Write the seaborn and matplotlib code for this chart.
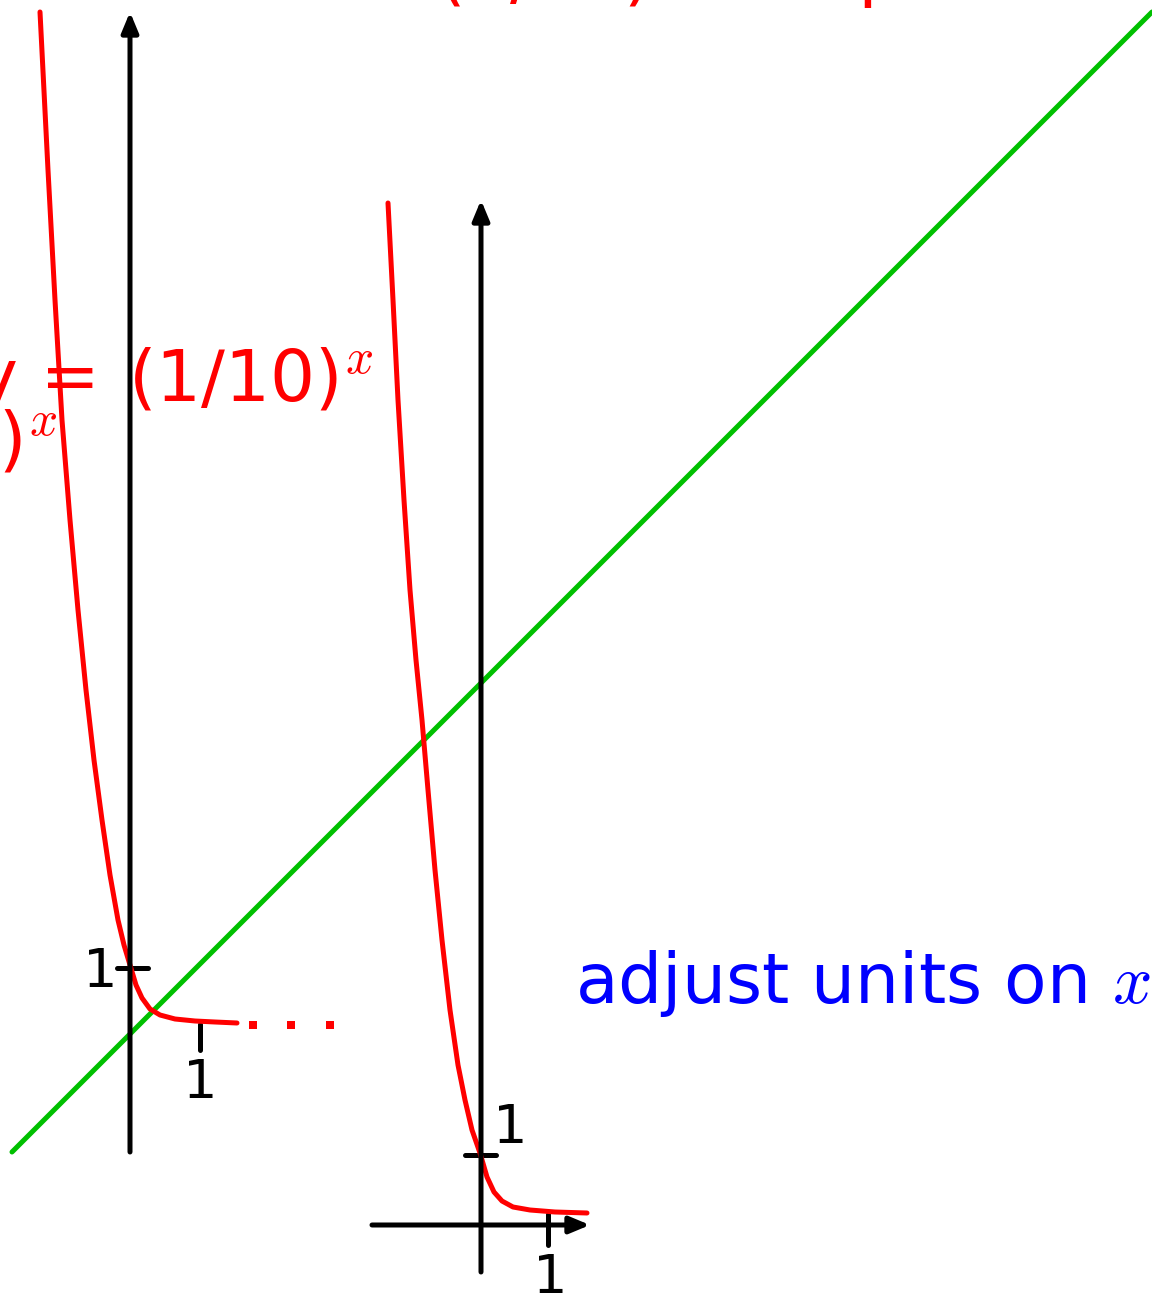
import numpy as np
import pandas as pd
import seaborn as sns
import matplotlib.pyplot as plt

# canvas in pixel units (y grows downward, like the slide)
W, H = 1152, 1297

# left red curve y=(1/10)^x on the wide axes
left_x = [40, 48, 55, 62, 70, 78, 86, 94, 102, 110, 118, 124, 130, 136, 142, 150, 160, 175, 195, 215, 237]
left_y = [12, 170, 300, 420, 520, 610, 690, 760, 820, 875, 920, 945, 965, 985, 998, 1009, 1015, 1019, 1021, 1022, 1023]
dots_x = [253, 291, 330]
dots_y = [1025, 1025, 1025]

# right red curve on the adjusted axes
right_x = [388, 393, 398, 404, 410, 416, 422, 428, 435, 442, 450, 458, 465, 472, 480, 487, 494, 502, 513, 530, 555, 587]
right_y = [203, 300, 400, 500, 590, 660, 720, 790, 870, 940, 1010, 1065, 1100, 1130, 1153, 1177, 1192, 1201, 1207, 1210, 1212, 1213]

# green line y=x
green_x = [12, 1152]
green_y = [1152, 12]

sns.set_style('white')
plt.rcParams['font.family'] = ['DejaVu Sans']
plt.rcParams['mathtext.fontset'] = 'cm'

fig = plt.figure(figsize=(W / 100, H / 100), dpi=100)
ax = fig.add_axes([0, 0, 1, 1])
ax.set_xlim(0, W)
ax.set_ylim(H, 0)
ax.axis('off')

lw = 3.6


def arrow(x0, y0, x1, y1):
    ax.annotate('', xy=(x1, y1), xytext=(x0, y0),
                arrowprops=dict(arrowstyle='-|>,head_length=0.6,head_width=0.25', lw=lw,
                                color='black', shrinkA=0, shrinkB=0, mutation_scale=20))


# left axes
arrow(130, 1152, 130, 12)
arrow(12, 1035, 1155, 1035)
ax.plot([117, 148], [968, 968], color='black', lw=lw)
ax.plot([200, 200], [1024, 1050], color='black', lw=lw)

# right axes
arrow(481, 1272, 481, 200)
arrow(372, 1225, 590, 1225)
ax.plot([465, 496], [1155, 1155], color='black', lw=lw)
ax.plot([548, 548], [1214, 1245], color='black', lw=lw)

sns.lineplot(x=green_x, y=green_y, ax=ax, color='#00c000', lw=lw, sort=False)
sns.lineplot(x=left_x, y=left_y, ax=ax, color='red', lw=lw, sort=False)
sns.lineplot(x=right_x, y=right_y, ax=ax, color='red', lw=lw, sort=False)
ax.scatter(dots_x, dots_y, color='red', marker='s', s=30, lw=0)

# tick labels
tk = dict(color='black', fontsize=39, ha='center', va='baseline')
ax.text(100, 987, '1', **tk)
ax.text(200, 1098, '1', **tk)
ax.text(510, 1143, '1', **tk)
ax.text(550, 1293, '1', **tk)

# labels
ax.text(128, 400, '(1/10)$^x$', color='red', fontsize=51, ha='left', va='baseline')
ax.text(100, 400, 'y =', color='red', fontsize=51, ha='right', va='baseline')
ax.text(57, 462, '(1/2)$^x$', color='red', fontsize=51, ha='right', va='baseline')
# title line, mostly cut off at the top edge
ax.text(437, -4, '(1/10)$^x$', color='red', fontsize=51, ha='left', va='baseline')
ax.text(733, -7, 'shape of a', color='red', fontsize=51, ha='left', va='baseline')
ax.text(575, 1003, 'adjust units on $x$', color='blue', fontsize=50, ha='left', va='baseline')

fig.savefig('out.png', dpi=100)
